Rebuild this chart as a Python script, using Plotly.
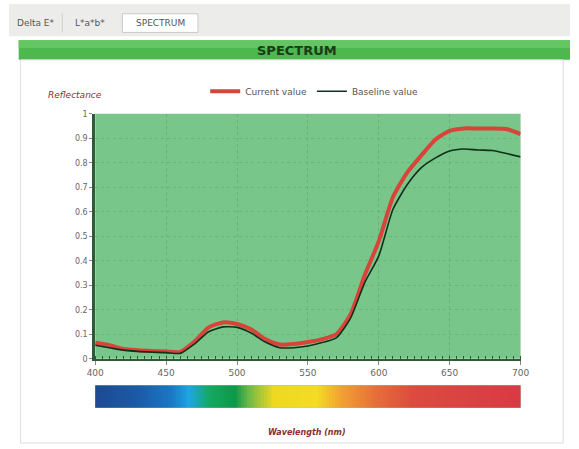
import plotly.graph_objects as go

wavelength = [400, 410, 420, 430, 440, 450, 460, 470, 480, 490, 500, 510, 520, 530, 540, 550,
              560, 570, 580, 590, 600, 610, 620, 630, 640, 650, 660, 670, 680, 690, 700]
current_value = [0.065, 0.055, 0.04, 0.035, 0.032, 0.03, 0.028, 0.07, 0.128, 0.148, 0.142, 0.12, 0.08, 0.058, 0.06, 0.068,
                 0.08, 0.10, 0.18, 0.34, 0.48, 0.66, 0.76, 0.83, 0.895, 0.93, 0.94, 0.94, 0.94, 0.938, 0.917]
baseline_value = [0.055, 0.045, 0.035, 0.03, 0.027, 0.025, 0.022, 0.06, 0.11, 0.13, 0.128, 0.105, 0.068, 0.045, 0.045, 0.052,
                  0.066, 0.085, 0.165, 0.31, 0.42, 0.61, 0.71, 0.78, 0.82, 0.848, 0.856, 0.852, 0.85, 0.838, 0.824]
x_ticks = [400, 450, 500, 550, 600, 650, 700]
y_ticks = [0, 0.1, 0.2, 0.3, 0.4, 0.5, 0.6, 0.7, 0.8, 0.9, 1]
y_tick_labels = ["0", "0.1", "0.2", "0.3", "0.4", "0.5", "0.6", "0.7", "0.8", "0.9", "1"]
spectrum_nm = list(range(400, 701, 2))
tabs = ["Delta E*", "L*a*b*", "SPECTRUM"]

W, H = 579, 449
def px(x): return x / W
def py(y): return 1 - y / H

fig = go.Figure()

fig.add_trace(go.Scatter(x=wavelength, y=current_value, mode="lines", name="Current value",
                         line=dict(color="#d8443a", width=4, shape="spline", smoothing=0.6),
                         xaxis="x", yaxis="y"))
fig.add_trace(go.Scatter(x=wavelength, y=baseline_value, mode="lines", name="Baseline value",
                         line=dict(color="#10301a", width=1.6, shape="spline", smoothing=0.6),
                         xaxis="x", yaxis="y"))

colorscale = [
    [0.00, "#1d4a92"], [0.10, "#1b5aa6"], [0.18, "#1a78c4"], [0.22, "#1ea6e4"],
    [0.27, "#13a860"], [0.33, "#0e9848"], [0.36, "#6cb848"], [0.42, "#eed820"],
    [0.52, "#f4dc24"], [0.58, "#f2a032"], [0.66, "#e66e3a"], [0.75, "#dc4a40"],
    [1.00, "#d93a44"]]
fig.add_trace(go.Heatmap(x=spectrum_nm, y=[0], z=[spectrum_nm], colorscale=colorscale,
                         showscale=False, hoverinfo="skip", xaxis="x2", yaxis="y2"))

shapes = []
shapes.append(dict(type="rect", xref="paper", yref="paper", x0=0, x1=1, y0=py(33), y1=1,
                   fillcolor="#ececea", line=dict(width=0), layer="below"))
shapes.append(dict(type="rect", xref="paper", yref="paper", x0=px(117), x1=px(195), y0=py(29), y1=py(10),
                   fillcolor="#ffffff", line=dict(color="#c8c8c8", width=1), layer="below"))
shapes.append(dict(type="line", xref="paper", yref="paper", x0=px(55), x1=px(55), y0=py(29), y1=py(10),
                   line=dict(color="#d0d0d0", width=1)))
shapes.append(dict(type="rect", xref="paper", yref="paper", x0=px(10), x1=1, y0=py(57), y1=py(37),
                   fillcolor="#4cb84e", line=dict(width=0), layer="below"))
shapes.append(dict(type="rect", xref="paper", yref="paper", x0=px(10), x1=1, y0=py(45), y1=py(37),
                   fillcolor="#64c663", line=dict(width=0), layer="below"))
shapes.append(dict(type="rect", xref="paper", yref="paper", x0=px(12), x1=px(572), y0=py(448), y1=py(57),
                   fillcolor="rgba(0,0,0,0)", line=dict(color="#dcdcdc", width=1), layer="below"))

annotations = [
    dict(text="<b>SPECTRUM</b>", x=px(297), y=py(47), xref="paper", yref="paper", showarrow=False,
         font=dict(family="DejaVu Sans", size=13, color="#1c3a1c"), xanchor="center", yanchor="middle"),
    dict(text="<i>Reflectance</i>", x=px(68), y=py(93), xref="paper", yref="paper", showarrow=False,
         font=dict(family="DejaVu Sans", size=9, color="#8a3030"), xanchor="center", yanchor="middle"),
    dict(text="<b><i>Wavelength (nm)</i></b>", x=px(308), y=py(437), xref="paper", yref="paper", showarrow=False,
         font=dict(family="DejaVu Sans", size=8, color="#8a3030"), xanchor="center", yanchor="middle"),
]
tab_x = [28, 84, 156]
for t, xc in zip(tabs, tab_x):
    annotations.append(dict(text=t, x=px(xc), y=py(19), xref="paper", yref="paper", showarrow=False,
                            font=dict(family="DejaVu Sans", size=9, color="#555555"),
                            xanchor="center", yanchor="middle"))

fig.update_layout(
    width=W, height=H, margin=dict(l=0, r=0, t=0, b=0),
    paper_bgcolor="#ffffff", plot_bgcolor="#78c68a",
    font=dict(family="DejaVu Sans", size=9, color="#555555"),
    showlegend=True,
    legend=dict(orientation="h", x=px(315), y=py(89), xanchor="center", yanchor="middle",
                bgcolor="rgba(0,0,0,0)", font=dict(size=9, color="#555555"), itemwidth=30,
                tracegroupgap=0),
    xaxis=dict(domain=[px(89), px(528)], range=[400, 700], anchor="y",
               tickvals=x_ticks, ticktext=[str(v) for v in x_ticks], showgrid=True,
               gridcolor="rgba(40,110,60,0.22)", griddash="dot", gridwidth=1,
               showline=True, linecolor="#2e5a3a", linewidth=2, ticks="outside", ticklen=4,
               tickcolor="#888888", zeroline=False,
               minor=dict(dtick=5, ticks="inside", ticklen=3, tickcolor="#2e5a3a", showgrid=False),
               tickfont=dict(size=9, color="#666666")),
    yaxis=dict(domain=[py(362), py(112)], range=[0, 1], anchor="x",
               tickvals=y_ticks, ticktext=y_tick_labels, showgrid=True,
               gridcolor="rgba(40,110,60,0.18)", griddash="dot", gridwidth=1,
               showline=True, linecolor="#2e5a3a", linewidth=3, ticks="outside", ticklen=3,
               tickcolor="#888888", zeroline=False, tickfont=dict(size=8, color="#666666")),
    xaxis2=dict(domain=[px(89), px(528)], range=[400, 700], anchor="y2", visible=False),
    yaxis2=dict(domain=[py(412), py(389)], range=[-0.5, 0.5], anchor="x2", visible=False),
    shapes=shapes, annotations=annotations,
)

post = ("document.documentElement.style.background='#ffffff';"
        "document.body.style.margin='0';document.body.style.padding='0';document.body.style.overflow='hidden';")

fig.write_html("out.html", config={"displayModeBar": False}, post_script=post)
